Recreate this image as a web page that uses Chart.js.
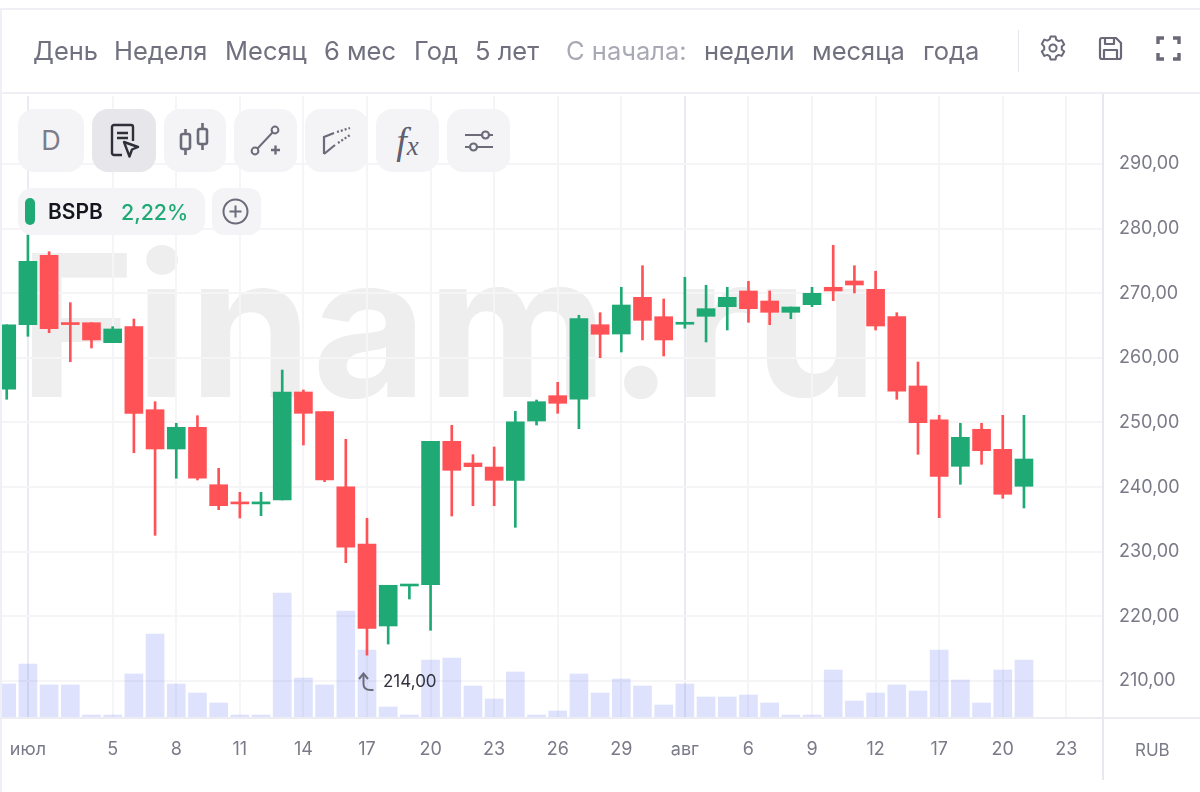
<!DOCTYPE html>
<html lang="ru"><head><meta charset="utf-8">
<script src="https://cdn.jsdelivr.net/npm/chart.js@4"></script>
<style>
html,body{margin:0;padding:0;background:#fff;width:1200px;height:792px;overflow:hidden;font-family:Inter,sans-serif}
#wm{position:absolute;left:19px;top:226px;font:700 198px/1 Inter,sans-serif;color:#EEEEEF;white-space:nowrap;z-index:0}
canvas{position:absolute;left:0;top:0;z-index:1}
.ui{position:absolute;z-index:2}
.t{position:absolute;top:36px;font-size:25.5px;line-height:30px;color:#70707F;white-space:nowrap}
.ln{position:absolute;background:#EFEFF6;z-index:2}
.b{position:absolute;top:109px;height:63px;background:#F4F4F6;border-radius:16px;z-index:2;display:flex;align-items:center;justify-content:center;color:#70707F}
svg{display:block}
</style></head><body>
<div id="wm">Finam.ru</div>
<canvas id="c" width="1200" height="792"></canvas>
<div class="ln" style="left:0;top:8px;width:1200px;height:2px"></div>
<div class="ln" style="left:0;top:92px;width:1200px;height:2px"></div>
<div class="ln" style="left:0;top:8px;width:2px;height:784px"></div>
<div class="ln" style="left:0;top:717px;width:1200px;height:2px;background:#ECECF2"></div>
<div class="ln" style="left:1102px;top:94px;width:2px;height:686px;background:#E8E8EF"></div>
<div class="ln" style="left:1018px;top:30px;width:1px;height:42px;background:#E6E6EC"></div>

<div class="t ui" style="left:33px">День</div>
<div class="t ui" style="left:114px">Неделя</div>
<div class="t ui" style="left:225px">Месяц</div>
<div class="t ui" style="left:324px">6 мес</div>
<div class="t ui" style="left:414px">Год</div>
<div class="t ui" style="left:475px">5 лет</div>
<div class="t ui" style="left:566px;color:#A9A9B5">С начала:</div>
<div class="t ui" style="left:704px">недели</div>
<div class="t ui" style="left:812px">месяца</div>
<div class="t ui" style="left:923px">года</div>
<div class="ui" style="left:1135px;top:739px;font-size:17px;line-height:22px;color:#7A7A88">RUB</div>

<svg class="ui" style="left:1039px;top:34px" width="28" height="28" viewBox="0 0 28 28" fill="none" stroke="#696978" stroke-width="2" stroke-linejoin="round"><path d="M11.5 2.5h5l.7 3.2 2.4 1.4 3.1-1 2.5 4.3-2.4 2.2v2.8l2.4 2.2-2.5 4.3-3.1-1-2.4 1.4-.7 3.2h-5l-.7-3.2-2.4-1.4-3.1 1-2.5-4.3 2.4-2.2v-2.8L2.8 9.9l2.5-4.3 3.1 1 2.4-1.4z"/><circle cx="14" cy="14" r="3.6"/></svg>
<svg class="ui" style="left:1097px;top:35px" width="27" height="27" viewBox="0 0 27 27" fill="none" stroke="#696978" stroke-width="2.2" stroke-linejoin="round"><path d="M3 5a2 2 0 0 1 2-2h14l5 5v14a2 2 0 0 1-2 2H5a2 2 0 0 1-2-2z"/><path d="M8 3v6h9V3M7 24v-9h13v9"/></svg>
<svg class="ui" style="left:1156px;top:36px" width="25" height="25" viewBox="0 0 25 25" fill="none" stroke="#696978" stroke-width="3.4"><path d="M2 8V2h6M17 2h6v6M23 17v6h-6M8 23H2v-6"/></svg>

<div class="b" style="left:18px;width:66px;font-size:27px;color:#7c7c8a">D</div>
<div class="b" style="left:92px;width:64px;background:#E7E7EB"><svg width="32" height="40" viewBox="0 0 32 40" fill="none" stroke="#2F2F3A" stroke-width="2.4" stroke-linejoin="round"><path d="M14 34H6a2 2 0 0 1-2-2V6a2 2 0 0 1 2-2h17a2 2 0 0 1 2 2v14"/><path d="M9 12h11M9 17h11" /><path d="M16 21l14 5-6 2.5-2.5 7z"/></svg></div>
<div class="b" style="left:164px;width:62px"><svg width="32" height="36" viewBox="0 0 32 36" fill="none" stroke="#6B6B7A" stroke-width="2.6"><rect x="2" y="11" width="9" height="15" rx="2"/><path d="M6.5 6v5M6.5 26v6"/><rect x="19" y="6" width="9" height="15" rx="2"/><path d="M23.5 0v6M23.5 21v6"/></svg></div>
<div class="b" style="left:234px;width:63px"><svg width="32" height="32" viewBox="0 0 32 32" fill="none" stroke="#6B6B7A" stroke-width="2"><circle cx="5" cy="26" r="3.4"/><circle cx="25" cy="5" r="3.4"/><path d="M7.5 23.5L22.5 7.5"/><path d="M21 25h9M25.500 20.500v9" stroke-width="2.400"/></svg></div>
<div class="b" style="left:305px;width:63px"><svg width="32" height="30" viewBox="0 0 32 30" fill="none" stroke="#6B6B7A" stroke-width="2.200"><path d="M3 28V11L13 7M3 28L14 19"/><path d="M16 6l13-4M17 17L29 9" stroke-dasharray="2 2"/></svg></div>
<div class="b" style="left:376px;width:63px;font-family:'Liberation Serif',serif;font-style:italic;color:#5F5F6E"><span style="font-size:38px">f</span><span style="font-size:27px;margin-top:12px">x</span></div>
<div class="b" style="left:447px;width:63px"><svg width="30" height="24" viewBox="0 0 30 24" fill="none" stroke="#6B6B7A" stroke-width="2.200"><path d="M1 6h17M25 6h4M1 18h5M13 18h16"/><circle cx="21.500" cy="6" r="3.500"/><circle cx="9.500" cy="18" r="3.500"/></svg></div>

<div class="ui" style="left:18px;top:188px;width:187px;height:47px;background:#F4F4F6;border-radius:14px"></div>
<div class="ui" style="left:25px;top:198px;width:10px;height:27px;background:#1FA975;border-radius:5px"></div>
<div class="ui" style="left:48px;top:199px;font-size:21px;font-weight:600;line-height:26px;color:#15151f">BSPB</div>
<div class="ui" style="left:121px;top:199px;font-size:21.400px;font-weight:500;line-height:26px;color:#1FA975">2,22%</div>
<div class="ui" style="left:212px;top:188px;width:49px;height:47px;background:#F4F4F6;border-radius:12px"></div>
<svg class="ui" style="left:222px;top:198px" width="27" height="27" viewBox="0 0 27 27" fill="none" stroke="#6B6B7A" stroke-width="2"><circle cx="13.500" cy="13.500" r="12"/><path d="M13.500 7.500v12M7.500 13.500h12"/></svg>

<div id="ann" class="ui" style="white-space:nowrap;font-size:17px;line-height:22px;color:#333340"><svg style="display:inline-block;vertical-align:-5px;margin-right:8px" width="17" height="20" viewBox="0 0 17 20" fill="none" stroke="#6B6B7A" stroke-width="2"><path d="M1 7l4.500-5.500L10 7"/><path d="M5.500 2v10c0 4 3 6 7 6h3"/></svg><span id="annT"></span></div>

<script>
const tickIndex  = [1,5,8,11,14,17,20,23,26,29,32,35,38,41,44,47,50];
const tickLabels = ['июл','5','8','11','14','17','20','23','26','29','авг','6','9','12','17','20','23'];
const monthTicks = ['июл','авг'];
const priceTicks = [210,220,230,240,250,260,270,280,290];

const openVals  = [255.14,265.13,275.87,265.35,265.44,262.35,264.83,251.98,245.90,249.26,240.37,237.60,237.40,238.01,254.72,251.67,240.06,231.20,218.51,224.70,224.90,247.09,243.73,243.11,241.05,250.23,254.15,253.59,265.13,263.69,269.37,266.37,265.20,266.43,267.92,270.35,268.80,267.05,268.23,270.92,271.90,270.61,266.37,255.65,250.43,243.22,248.95,245.85,240.13];
const closeVals = [265.13,274.94,264.51,265.15,262.77,264.47,251.42,245.90,249.26,241.37,237.13,237.40,237.60,254.72,251.42,241.10,230.69,218.15,224.81,224.80,247.09,242.60,243.16,241.05,250.12,253.22,252.97,266.06,263.65,268.18,265.81,262.77,265.40,267.61,269.37,267.61,267.05,267.87,269.99,270.35,271.28,264.93,254.83,249.97,241.67,247.71,245.64,238.89,244.35];
const highVals  = [265.13,279.01,276.43,268.54,265.44,264.83,266.01,253.22,249.88,251.05,242.91,239.20,239.20,258.12,255.03,251.67,247.40,235.18,224.81,224.80,247.09,249.57,245.02,246.21,251.73,253.48,256.22,266.59,266.99,270.92,274.26,269.11,272.47,271.23,270.92,271.85,270.35,267.87,270.92,277.42,274.26,273.40,266.99,259.36,251.11,249.88,249.88,251.11,251.11];
const lowVals   = [253.59,263.34,263.89,259.41,261.53,262.35,245.33,232.54,241.37,241.10,236.51,235.22,235.58,238.01,246.52,240.84,228.31,214.00,215.72,222.69,217.84,235.53,237.13,237.13,233.78,249.61,251.42,249.04,260.03,260.91,262.77,260.29,264.58,262.46,264.31,265.50,265.13,266.06,267.92,268.85,270.04,264.31,253.59,245.08,235.27,240.44,243.53,238.27,236.77];
const volumes   = [33,53,32,32,2,2,43,83,33,24,14,2,2,124,39,32,106,67,10,2,57,59,31,18,45,2,6,43,24,38,31,12,33,20,20,22,14,2,2,47,16,24,32,26,67,37,14,47,57];

const UP='#1FA975', DOWN='#FF5256', VOL='rgba(100,120,245,0.21)';
const colors = openVals.map((o,i)=> closeVals[i]>o ? UP : DOWN);
const bodies = openVals.map((o,i)=>({x:i,y:[o,closeVals[i]]}));
const wicks  = lowVals.map((l,i)=>({x:i,y:[l,highVals[i]]}));
const vols   = volumes.map((v,i)=>({x:i,y:v}));
const fmt = v => v.toFixed(2).replace('.',',');
const axisFont = {family:'Inter',size:18};

const positionAnn = {id:'positionAnn',afterRender(chart){
  const lowest = Math.min(...lowVals), i = lowVals.indexOf(lowest);
  const a = document.getElementById('ann');
  document.getElementById('annT').textContent = fmt(lowest);
  a.style.left = (chart.scales.x.getPixelForValue(i)-9)+'px';
  a.style.top  = (chart.scales.y.getPixelForValue(lowest)+15)+'px';
}};

new Chart(document.getElementById('c'),{
  type:'bar',
  plugins:[positionAnn],
  data:{datasets:[
    {label:'Body',data:bodies,yAxisID:'y',backgroundColor:colors,barThickness:18,minBarLength:2,grouped:false,order:1},
    {label:'Wick',data:wicks,yAxisID:'y',backgroundColor:colors,barThickness:2,grouped:false,order:2},
    {label:'Volume',data:vols,yAxisID:'v',backgroundColor:VOL,barThickness:18,grouped:false,order:3}
  ]},
  options:{
    responsive:false,animation:false,
    layout:{padding:{left:1,top:96,right:0,bottom:0}},
    plugins:{legend:{display:false},tooltip:{enabled:false},title:{display:false}},
    scales:{
      x:{type:'linear',position:'bottom',offset:false,min:-0.27,max:51.73,
        afterBuildTicks(s){s.ticks=tickIndex.map(v=>({value:v}));},
        afterFit(s){s.height=75;s.paddingLeft=0;s.paddingRight=0;},
        ticks:{autoSkip:false,maxRotation:0,color:'#7A7A88',font:axisFont,padding:22,
          callback(v){const i=tickIndex.indexOf(v);return i<0?'':tickLabels[i];}},
        grid:{offset:false,drawTicks:false,tickLength:0,
          color(c){const i=tickIndex.indexOf(c.tick&&c.tick.value);return monthTicks.includes(tickLabels[i])?'#EAEAF1':'#F5F5F8';},lineWidth:2},
        border:{display:false}
      },
      y:{type:'linear',position:'right',min:204.43,max:300.52,
        afterBuildTicks(s){s.ticks=priceTicks.map(v=>({value:v}));},
        afterFit(s){s.width=97;},
        ticks:{color:'#7A7A88',font:axisFont,padding:16,callback:v=>fmt(v)},
        grid:{drawTicks:false,tickLength:0,color:'#F5F5F8',lineWidth:2},
        border:{display:false}
      },
      v:{type:'linear',display:false,min:0,max:621,position:'left'}
    }
  }
});
</script>
</body></html>
